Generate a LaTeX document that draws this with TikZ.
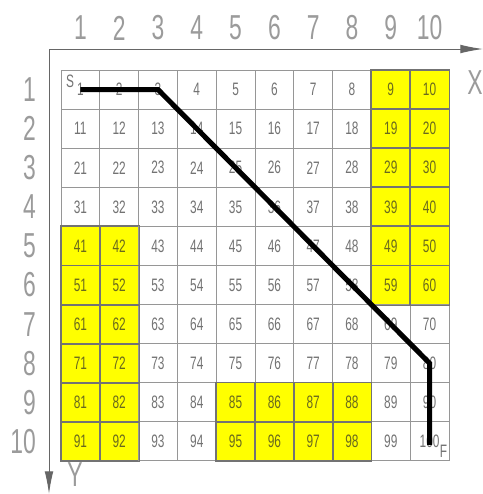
\documentclass[tikz,border=0pt]{standalone}
\usepackage{fontspec}
\setmainfont[FakeStretch=0.66]{Liberation Sans}
\usetikzlibrary{arrows.meta}
\definecolor{cadyellow}{RGB}{255,255,0}
\definecolor{gridgray}{RGB}{150,150,150}
\definecolor{numgray}{RGB}{115,115,115}
\definecolor{numolive}{RGB}{105,105,30}
\definecolor{labgray}{RGB}{155,155,155}
\tikzset{
  wcell/.style={draw=gridgray, line width=0.75pt, fill=white, minimum width=29.1pt, minimum height=29.3pt, inner sep=0pt, text=numgray, font=\fontsize{13.5}{15}\selectfont},
  ycell/.style={wcell, fill=cadyellow, draw=gray!90!black, text=numolive},
  axislab/.style={text=labgray, font=\fontsize{26}{28}\selectfont, inner sep=0pt},
  axisline/.style={draw=gray!80!black, line width=0.75pt, -{Latex[length=17pt,width=6.5pt]}},
  route/.style={line width=3.8pt, black, line join=miter},
  endmark/.style={text=numgray, font=\fontsize{13.5}{15}\selectfont, inner sep=0pt}
}
\begin{document}
\begin{tikzpicture}[x=0.75pt,y=-0.75pt]
\useasboundingbox (0,0) rectangle (483,494);
\fill[white] (0,0) rectangle (483,494);
% axes
\coordinate (o) at (49,49);
\coordinate (xe) at (483,49);
\coordinate (ye) at (49,494);
\draw[axisline] (o) -- (xe);
\draw[axisline] (o) -- (ye);
\node[axislab] (xl) at (475,83) {X};
\node[axislab] (yl) at (75,475) {Y};
% column and row labels
\foreach \c in {1,...,10} {
  \node[axislab] (col\c) at ({61+(\c-0.5)*38.8},28) {\c};
}
\foreach \r in {1,...,10} {
  \node[axislab, anchor=east] (row\r) at (36,{70+(\r-0.5)*39.1}) {\r};
}
% cells
\foreach \r in {1,...,10} {
  \foreach \c in {1,...,10} {
    \pgfmathtruncatemacro\n{(\r-1)*10+\c}
    \pgfmathtruncatemacro\yy{((\c>=9 && \r<=6) || (\c<=2 && \r>=5) || (\c>=5 && \c<=8 && \r>=9)) ? 1 : 0}
    \ifnum\yy=1 \tikzset{cur/.style={ycell}}\else\tikzset{cur/.style={wcell}}\fi
    \node[cur] (c\n) at ({61+(\c-0.5)*38.8},{70+(\r-0.5)*39.1}) {\n};
  }
}
% redraw yellow borders on top
\foreach \n in {9,10,19,20,29,30,39,40,49,50,59,60,41,42,51,52,61,62,71,72,81,82,91,92,85,86,87,88,95,96,97,98} {
  \draw[gray!90!black, line width=0.75pt] (c\n.north west) rectangle (c\n.south east);
}
% start / finish marks
\node[endmark] (s) at (70,81) {S};
\node[endmark] (f) at (443.5,451) {F};
% route
\coordinate (endpt) at ([yshift=-2.5]c100.center);
\draw[route] (c1.center) -- (c3.center) -- (c80.center) -- (endpt);
\end{tikzpicture}
\end{document}
